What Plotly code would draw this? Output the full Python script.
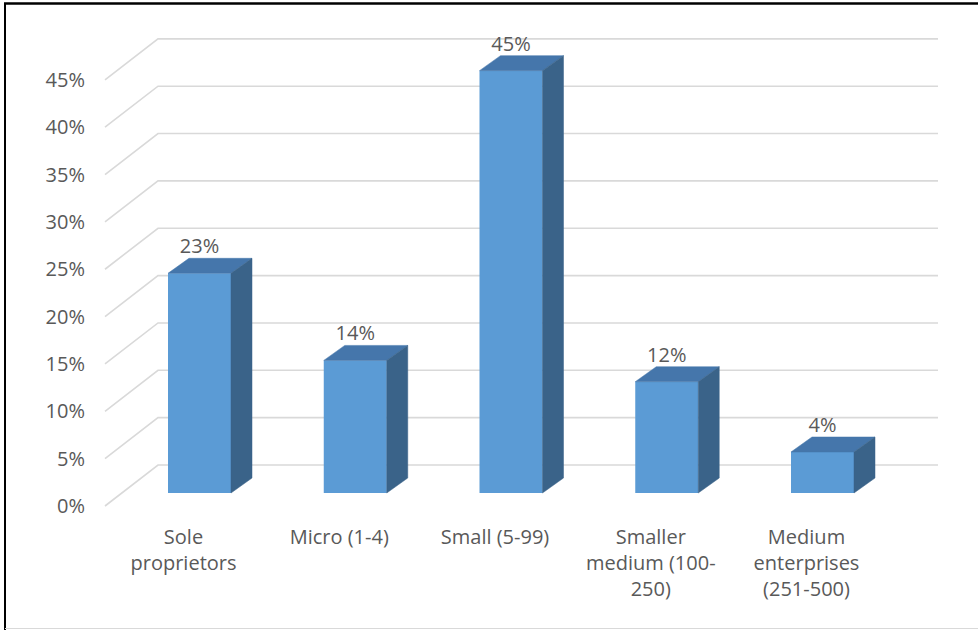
import plotly.graph_objects as go

categories = ["Sole<br>proprietors", "Micro (1-4)", "Small (5-99)",
              "Smaller<br>medium (100-<br>250)", "Medium<br>enterprises<br>(251-500)"]
values = [23.2, 14.0, 44.6, 11.75, 4.33]
value_labels = ["23%", "14%", "45%", "12%", "4%"]
tick_values = [0, 5, 10, 15, 20, 25, 30, 35, 40, 45]
tick_labels = ["0%", "5%", "10%", "15%", "20%", "25%", "30%", "35%", "40%", "45%"]

# geometry (style constants)
W, H = 978, 630
ML, MR, MT, MB = 100, 18, 20, 115
px_per_unit_x = 155.75
px_per_pct = 9.47
plot_w = W - ML - MR
plot_h = H - MT - MB
x0 = -(199.5 - ML) / px_per_unit_x
x1 = x0 + plot_w / px_per_unit_x
y0 = -((H - MB) - 493) / px_per_pct
y1 = y0 + plot_h / px_per_pct

bar_w = 63 / px_per_unit_x
depth_dx = 21 / px_per_unit_x
depth_dy = 15 / px_per_pct
front_dy = -13 / px_per_pct      # front plane offset
back_dy = 28 / px_per_pct        # back wall offset
front_x = -(199.5 - 105) / px_per_unit_x
back_x = -(199.5 - 158) / px_per_unit_x
back_xr = (938 - 199.5) / px_per_unit_x
label_dx = -16 / px_per_unit_x

FRONT = "#5B9BD5"
TOP = "#4576AB"
SIDE = "#3A6389"
GRID = "#D9D9D9"
TXT = "#595959"
FONT = "Open Sans"

xs = list(range(len(values)))
fig = go.Figure()

# front faces
fig.add_trace(go.Bar(x=xs, y=values, width=bar_w, marker=dict(color=FRONT, line=dict(width=0)),
                     hoverinfo="skip", showlegend=False))

# top and side faces
for x, v in zip(xs, values):
    l, r = x - bar_w / 2, x + bar_w / 2
    fig.add_trace(go.Scatter(x=[l, r, r + depth_dx, l + depth_dx, l],
                             y=[v, v, v + depth_dy, v + depth_dy, v],
                             fill="toself", fillcolor=TOP, mode="lines",
                             line=dict(width=0.5, color=TOP), hoverinfo="skip", showlegend=False))
    fig.add_trace(go.Scatter(x=[r, r + depth_dx, r + depth_dx, r, r],
                             y=[0, depth_dy, v + depth_dy, v, 0],
                             fill="toself", fillcolor=SIDE, mode="lines",
                             line=dict(width=0.5, color=SIDE), hoverinfo="skip", showlegend=False))

# data labels
fig.add_trace(go.Scatter(x=xs, y=[v + depth_dy for v in values], text=value_labels,
                         mode="text", textposition="top center",
                         textfont=dict(family=FONT, size=20, color=TXT),
                         hoverinfo="skip", showlegend=False))

# gridlines (floor diagonal + back wall)
shapes = []
for t in tick_values:
    path = (f"M {front_x},{t + front_dy} L {back_x},{t + back_dy} L {back_xr},{t + back_dy}")
    shapes.append(dict(type="path", path=path, xref="x", yref="y", layer="below",
                       line=dict(color=GRID, width=1.6)))

# chart border
def px_to_paper_x(p):
    return (p - ML) / plot_w

def px_to_paper_y(p):
    return ((H - MB) - p) / plot_h

shapes.append(dict(type="line", xref="paper", yref="paper",
                   x0=px_to_paper_x(5), x1=px_to_paper_x(5),
                   y0=px_to_paper_y(3), y1=px_to_paper_y(630), line=dict(color="black", width=2)))
shapes.append(dict(type="line", xref="paper", yref="paper",
                   x0=px_to_paper_x(4), x1=px_to_paper_x(980),
                   y0=px_to_paper_y(3.5), y1=px_to_paper_y(3.5), line=dict(color="black", width=2.5)))
shapes.append(dict(type="line", xref="paper", yref="paper",
                   x0=px_to_paper_x(5), x1=px_to_paper_x(980),
                   y0=px_to_paper_y(628.5), y1=px_to_paper_y(628.5), line=dict(color=GRID, width=1)))

fig.update_layout(
    width=W, height=H,
    margin=dict(l=ML, r=MR, t=MT, b=MB),
    paper_bgcolor="white", plot_bgcolor="white",
    shapes=shapes,
    showlegend=False,
    font=dict(family=FONT, size=20, color=TXT),
    xaxis=dict(range=[x0, x1], showgrid=False, zeroline=False, showline=False,
               tickmode="array", tickvals=[x + label_dx for x in xs], ticktext=categories,
               ticks="", ticklabelstandoff=8, tickfont=dict(family=FONT, size=20, color=TXT)),
    yaxis=dict(range=[y0, y1], showgrid=False, zeroline=False, showline=False,
               tickmode="array", tickvals=[t + front_dy for t in tick_values], ticktext=tick_labels,
               ticks="", ticklabelstandoff=14, tickfont=dict(family=FONT, size=20, color=TXT)),
)

fig.write_html("out.html", config={"displayModeBar": False},
               post_script="document.body.style.margin='0';document.body.style.overflow='hidden';")
